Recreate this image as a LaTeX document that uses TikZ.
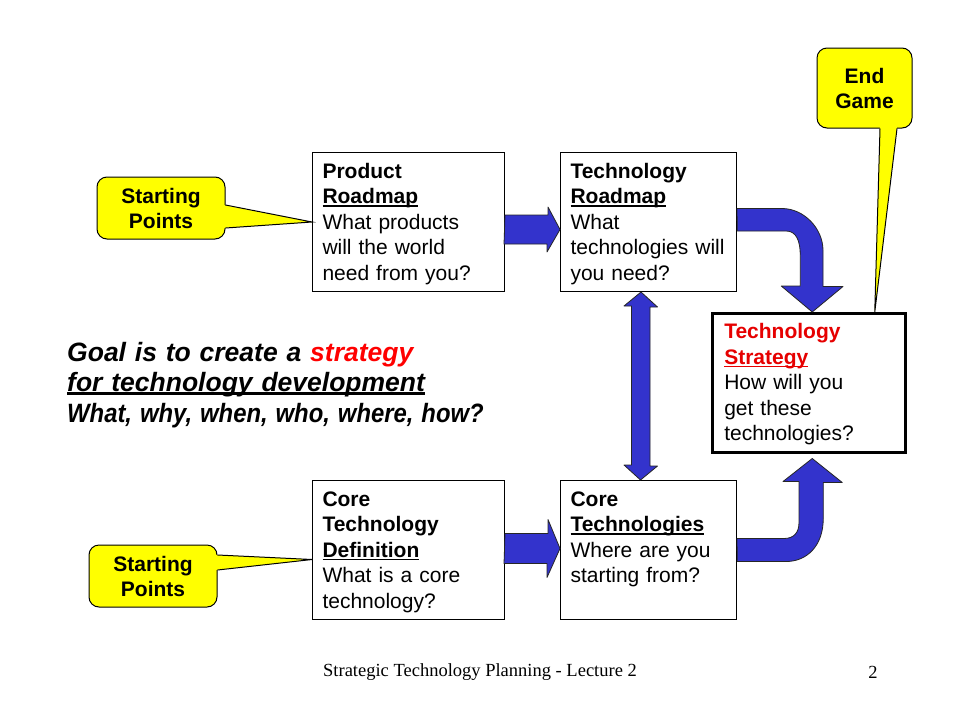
\documentclass[tikz,border=0pt]{standalone}
\usepackage{fontspec}
\setmainfont{Liberation Sans}
\newfontfamily\footfont{Liberation Serif}
\usepackage{graphicx}
\usetikzlibrary{calc}
\definecolor{arrowblue}{RGB}{51,51,204}
\definecolor{calloutyellow}{RGB}{255,255,0}
\definecolor{techred}{RGB}{230,0,0}
\newsavebox{\ulbox}
\newcommand{\ulword}[2][1.5pt]{\leavevmode\sbox{\ulbox}{#2}\rlap{\rule[-3pt]{\wd\ulbox}{#1}}\usebox{\ulbox}}

\begin{document}
\begin{tikzpicture}[x=1pt,y=-1pt,
    box/.style={draw,fill=white,line width=1pt,anchor=north west,align=left,
      inner xsep=10pt,inner ysep=0pt,text height=25.5pt,text depth=113.5pt,
      font=\fontsize{21}{25.5}\selectfont},
    callout/.style={draw,fill=calloutyellow,line width=1pt,rounded corners=10pt,
      align=center,font=\fontsize{21}{25}\selectfont\bfseries},
    blockarrow/.style={fill=arrowblue,draw=black!85,line width=0.8pt,line join=round}]
  \useasboundingbox[fill=white] (0,0) rectangle (960,720);

  % the five boxes
  \node[box,text width=172pt] (prodmap) at (312,152)
    {\textbf{Product}\\\textbf{\ulword{Roadmap}}\\What products\\will the world\\need from you?};
  \node[box,text width=156pt] (techmap) at (560,152)
    {\textbf{Technology}\\\textbf{\ulword{Roadmap}}\\What\\technologies will\\you need?};
  \node[box,text width=169pt,inner xsep=12pt,line width=2.5pt] (strat) at (711,312)
    {\textcolor{techred}{\textbf{Technology}}\\\textcolor{techred}{\textbf{\ulword{Strategy}}}\\How will you\\get these\\technologies?};
  \node[box,text width=172pt] (coredef) at (312,480)
    {\textbf{Core}\\\textbf{Technology}\\\textbf{\ulword{Definition}}\\What is a core\\technology?};
  \node[box,text width=156pt] (coretech) at (560,480)
    {\textbf{Core}\\\textbf{\ulword{Technologies}}\\Where are you\\starting from?};

  % callouts
  \node[callout,minimum width=128pt,minimum height=62pt] (start1) at (161,208) {Starting\\Points};
  \node[callout,minimum width=128pt,minimum height=62pt] (start2) at (153,576) {Starting\\Points};
  \node[callout,minimum width=95pt,minimum height=80pt] (endgame) at (864.5,88) {End\\Game};
  \fill[calloutyellow] ($(start1.east)+(-2,-3)$) -- (prodmap.west) -- ($(start1.east)+(-2,20)$) -- cycle;
  \draw[line width=1pt] ($(start1.east)+(0,-3)$) -- (prodmap.west) -- ($(start1.east)+(0,20)$);
  \fill[calloutyellow] ($(start2.east)+(-2,-21)$) -- ($(coredef.west)+(0,9.5)$) -- ($(start2.east)+(-2,-6)$) -- cycle;
  \draw[line width=1pt] ($(start2.east)+(0,-21)$) -- ($(coredef.west)+(0,9.5)$) -- ($(start2.east)+(0,-6)$);
  \fill[calloutyellow] ($(endgame.south)+(15.5,-2)$) -- ($(strat.north)+(66,0)$) -- ($(endgame.south)+(32.5,-2)$) -- cycle;
  \draw[line width=1pt] ($(endgame.south)+(15.5,0)$) -- ($(strat.north)+(66,0)$) -- ($(endgame.south)+(32.5,0)$);

  % block arrows
  \draw[blockarrow] ($(prodmap.east)+(0,-7)$) -- ++(43,0) -- ++(0,-8) -- ($(techmap.west)+(0,7.5)$)
    -- ++(-13,22.5) -- ++(0,-8) -- ++(-43,0) -- cycle;
  \draw[blockarrow] ($(coredef.east)+(0,-16.5)$) -- ++(43,0) -- ++(0,-14) -- ($(coretech.west)+(0,-1.5)$)
    -- ++(-13,29) -- ++(0,-14) -- ++(-43,0) -- cycle;
  \draw[blockarrow] ($(techmap.south)+(-7.5,0)$) -- ++(16.5,15) -- ++(-7.5,0) -- ++(0,159) -- ++(7.5,0)
    -- ($(coretech.north)+(-8,0)$) -- ++(-16.5,-15) -- ++(7.5,0) -- ++(0,-159) -- ++(-7.5,0) -- cycle;
  \draw[blockarrow] ($(techmap.east)+(0,-13.5)$) -- ++(45,0) .. controls +(22,0) and +(0,-22) .. ++(41,42)
    -- ++(0,36) -- ++(20,0) -- ($(strat.north)+(3.5,0)$) -- ++(-31,-26) -- ++(19,0) -- ++(0,-31)
    .. controls +(0,-14) and +(10,0) .. ++(-14,-24) -- ++(-49,0) -- cycle;
  \draw[blockarrow] ($(coretech.east)+(0,-11.5)$) -- ++(47,0) .. controls +(10,0) and +(0,10) .. ++(15,-16)
    -- ++(0,-41) -- ++(-16,0) -- ($(strat.south)+(3.5,5)$) -- ++(30,24) -- ++(-19,0) -- ++(0,36)
    .. controls +(0,28) and +(20,0) .. ++(-37,43) -- ++(-49,0) -- cycle;

  % goal text and footer
  \node[anchor=base west,text width=480pt,align=left,inner sep=0pt,
    font=\fontsize{26.5}{30.5}\selectfont\bfseries\itshape] (goal) at (67,361)
    {Goal is to create a \textcolor{red}{strategy}\\\ulword[2.5pt]{for technology development}\\\scalebox{0.9}[1]{What, why, when, who, where, how?}};
  \node[font=\footfont\fontsize{18.5}{22}\selectfont] (footer) at (480,672) {Strategic Technology Planning - Lecture 2};
  \node[font=\footfont\fontsize{18.5}{22}\selectfont] (pagenum) at (873,672) {2};
\end{tikzpicture}
\end{document}
